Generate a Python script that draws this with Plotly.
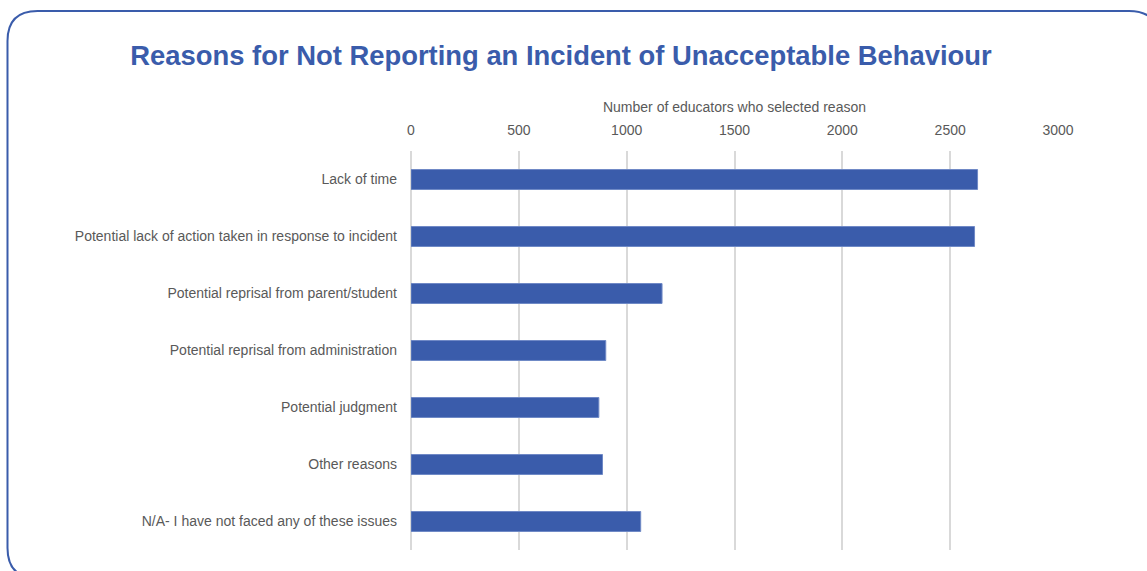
import plotly.graph_objects as go

# Survey responses: reasons educators gave for not reporting an incident
reasons = [
    "Lack of time",
    "Potential lack of action taken in response to incident",
    "Potential reprisal from parent/student",
    "Potential reprisal from administration",
    "Potential judgment",
    "Other reasons",
    "N/A- I have not faced any of these issues",
]
educator_counts = [2627, 2613, 1164, 903, 871, 888, 1065]
tick_values = [0, 500, 1000, 1500, 2000, 2500, 3000]

W, H = 1147, 571
ML, MR, MT, MB = 411, 89, 151, 21
PW, PH = W - ML - MR, H - MT - MB

BLUE = "#3A5CAB"
GREY_TEXT = "#595959"
GRID = "#D9D9D9"


def px_to_paper(x, y):
    return (x - ML) / PW, (H - MB - y) / PH


def rounded_rect_path(x0, y0, x1, y1, r):
    def p(x, y):
        a, b = px_to_paper(x, y)
        return f"{a:.5f},{b:.5f}"
    return (
        f"M {p(x0 + r, y0)} L {p(x1 - r, y0)} Q {p(x1, y0)} {p(x1, y0 + r)} "
        f"L {p(x1, y1 - r)} Q {p(x1, y1)} {p(x1 - r, y1)} "
        f"L {p(x0 + r, y1)} Q {p(x0, y1)} {p(x0, y1 - r)} "
        f"L {p(x0, y0 + r)} Q {p(x0, y0)} {p(x0 + r, y0)} Z"
    )


fig = go.Figure(
    go.Bar(
        x=educator_counts,
        y=reasons,
        orientation="h",
        marker=dict(color=BLUE, line=dict(color="#6F89C6", width=1)),
        hovertemplate="%{y}: %{x}<extra></extra>",
    )
)

fig.update_layout(
    width=W,
    height=H,
    margin=dict(l=ML, r=MR, t=MT, b=MB),
    paper_bgcolor="white",
    plot_bgcolor="white",
    bargap=0.65,
    showlegend=False,
    font=dict(family="Liberation Sans, Arial, sans-serif", size=14, color=GREY_TEXT),
    title=dict(
        text="<b>Reasons for Not Reporting an Incident of Unacceptable Behaviour</b>",
        font=dict(family="Liberation Sans, Arial, sans-serif", size=27.4, color=BLUE),
        x=(561 / W),
        xanchor="center",
        y=1 - 55 / H,
        yanchor="middle",
    ),
    xaxis=dict(
        side="top",
        range=[0, 3000],
        tickvals=tick_values,
        ticktext=[str(v) for v in tick_values],
        showgrid=True,
        gridcolor=GRID,
        gridwidth=1.5,
        zeroline=True,
        zerolinecolor=GRID,
        zerolinewidth=1.5,
        showline=False,
        ticks="",
        ticklabelstandoff=12,
        tickfont=dict(size=14, color=GREY_TEXT),
        title=dict(
            text="Number of educators who selected reason",
            font=dict(size=14, color=GREY_TEXT),
            standoff=6,
        ),
    ),
    yaxis=dict(
        categoryorder="array",
        categoryarray=reasons,
        autorange="reversed",
        showgrid=False,
        showline=False,
        zeroline=False,
        ticks="",
        ticklabelstandoff=13,
        tickfont=dict(size=14, color=GREY_TEXT),
    ),
    shapes=[
        dict(
            type="path",
            xref="paper",
            yref="paper",
            path=rounded_rect_path(7.5, 11, 1159, 578, 30),
            line=dict(color=BLUE, width=2),
            fillcolor="rgba(0,0,0,0)",
            layer="below",
        )
    ],
)

fig.write_html("out.html")
